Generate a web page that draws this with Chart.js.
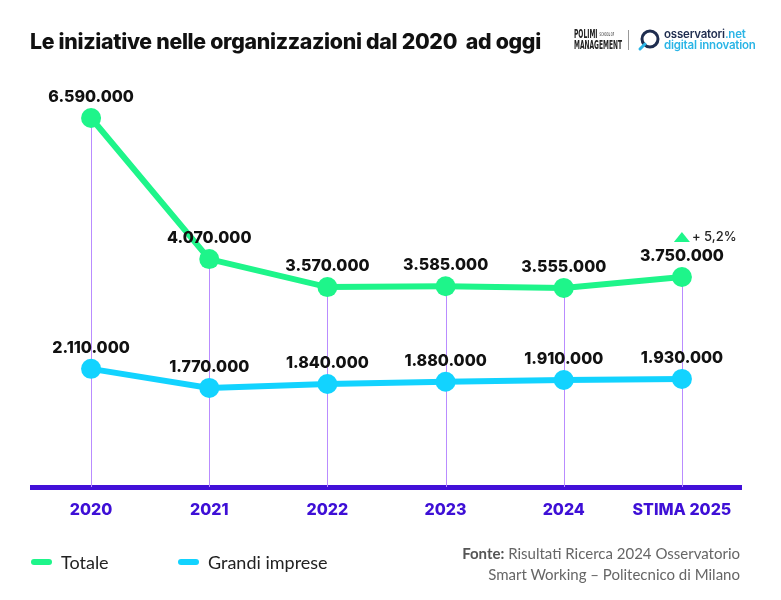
<!DOCTYPE html>
<html>
<head>
<meta charset="utf-8">
<script src="https://cdn.jsdelivr.net/npm/chart.js@4/dist/chart.umd.min.js"></script>
<style>
  html, body { margin: 0; padding: 0; background: #fff; }
  #wrap { position: relative; width: 781px; height: 600px; overflow: hidden; font-family: Inter, "Noto Sans", sans-serif; }
  #chart { position: absolute; left: 0; top: 0; }
  .title { position: absolute; left: 30px; top: 28px; font-size: 21.3px; font-weight: 800; color: #111; letter-spacing: -0.3px; }
  .polimi { position: absolute; left: 574px; top: 29px; font-family: "DejaVu Sans Condensed", "Liberation Sans", sans-serif; font-weight: 700; color: #222; font-size: 12px; line-height: 11px; transform: scaleX(0.55); transform-origin: left top; white-space: nowrap; }
  .polimi small { font-size: 5px; font-weight: 400; vertical-align: top; }
  .sep { position: absolute; left: 628px; top: 30px; width: 1px; height: 20px; background: #999; }
  .osserv { position: absolute; left: 664px; top: 29px; font-size: 11.5px; font-weight: 600; line-height: 11px; color: #1f2d4f; letter-spacing: -0.2px; }
  .osserv span, .osserv .dg { color: #2bb5e6; }
  .ico { position: absolute; left: 637px; top: 28px; }
  .legend { position: absolute; top: 551px; font-size: 18px; color: #222; font-family: Lato, Inter, sans-serif; }
  .legend i { display: inline-block; width: 21px; height: 6px; border-radius: 3px; vertical-align: middle; margin-right: 9px; position: relative; top: -2px; }
  .source { position: absolute; right: 41px; top: 543px; text-align: right; font-size: 15px; line-height: 21px; color: #666; font-family: Lato, Inter, sans-serif; }
  .source b { color: #555; }
</style>
</head>
<body>
<div id="wrap">
  <canvas id="chart" width="781" height="600"></canvas>
  <div class="title">Le iniziative nelle organizzazioni dal 2020&nbsp; ad oggi</div>
  <div class="polimi">POLIMI <small>SCHOOL OF</small><br>MANAGEMENT</div>
  <div class="sep"></div>
  <svg class="ico" width="24" height="24" viewBox="0 0 24 24">
    <circle cx="13" cy="11" r="8" fill="none" stroke="#1f2d4f" stroke-width="3"/>
    <path d="M8 16 L3 21" stroke="#2bb5e6" stroke-width="3" stroke-linecap="round"/>
  </svg>
  <div class="osserv">osservatori<span>.net</span><br><span class="dg">digital innovation</span></div>
  <div class="legend" style="left:31px"><i style="background:#1ef58a"></i>Totale</div>
  <div class="legend" style="left:178px"><i style="background:#12d3ff"></i>Grandi imprese</div>
  <div class="source"><b>Fonte:</b> Risultati Ricerca 2024 Osservatorio<br>Smart Working – Politecnico di Milano</div>
</div>
<script>
var years = ['2020', '2021', '2022', '2023', '2024', 'STIMA 2025'];
var totale = [6590000, 4070000, 3570000, 3585000, 3555000, 3750000];
var grandiImprese = [2110000, 1770000, 1840000, 1880000, 1910000, 1930000];
var growthLabel = '+ 5,2%';

function fmt(v) {
    return v.toString().replace(/\B(?=(\d{3})+(?!\d))/g, '.');
}

// drop lines from the Totale point down to the axis
var dropLines = {
    id: 'dropLines',
    beforeDatasetsDraw: function(chart) {
        var ctx = chart.ctx;
        var pts = chart.getDatasetMeta(0).data;
        var bottom = chart.chartArea.bottom;
        ctx.save();
        ctx.strokeStyle = '#b98cff';
        ctx.lineWidth = 1;
        pts.forEach(function(p) {
            var x = Math.round(p.x) + 0.5;
            ctx.beginPath();
            ctx.moveTo(x, p.y);
            ctx.lineTo(x, bottom);
            ctx.stroke();
        });
        ctx.restore();
    }
};

// value labels above points + growth badge
var valueLabels = {
    id: 'valueLabels',
    afterDatasetsDraw: function(chart) {
        var ctx = chart.ctx;
        ctx.save();
        ctx.font = '800 16px Inter, sans-serif';
        ctx.fillStyle = '#111';
        ctx.textAlign = 'center';
        ctx.textBaseline = 'middle';
        chart.data.datasets.forEach(function(ds, di) {
            chart.getDatasetMeta(di).data.forEach(function(p, i) {
                ctx.fillText(fmt(ds.data[i]), p.x, p.y - 21);
            });
        });
        var last = chart.getDatasetMeta(0).data[totale.length - 1];
        var tx = last.x, ty = last.y - 40;
        ctx.fillStyle = '#1ef58a';
        ctx.beginPath();
        ctx.moveTo(tx - 8, ty + 5);
        ctx.lineTo(tx + 8, ty + 5);
        ctx.lineTo(tx, ty - 5);
        ctx.closePath();
        ctx.fill();
        ctx.fillStyle = '#222';
        ctx.font = '500 13px Inter, sans-serif';
        ctx.textAlign = 'left';
        ctx.fillText(growthLabel, tx + 10, ty);
        ctx.restore();
    }
};

var ctx = document.getElementById('chart').getContext('2d');
var chart = new Chart(ctx, {
    type: 'line',
    data: {
        labels: years,
        datasets: [{
            label: 'Totale',
            data: totale,
            borderColor: '#1ef58a',
            backgroundColor: '#1ef58a',
            borderWidth: 6,
            pointRadius: 10,
            pointBorderWidth: 0,
            tension: 0
        }, {
            label: 'Grandi imprese',
            data: grandiImprese,
            borderColor: '#12d3ff',
            backgroundColor: '#12d3ff',
            borderWidth: 6,
            pointRadius: 10,
            pointBorderWidth: 0,
            tension: 0
        }]
    },
    options: {
        responsive: false,
        animation: false,
        layout: { padding: { left: 32, right: 40, top: 95, bottom: 83 } },
        plugins: {
            legend: { display: false },
            tooltip: { enabled: false }
        },
        scales: {
            x: {
                offset: true,
                grid: { display: false, drawTicks: false },
                border: { color: '#4210d8', width: 5 },
                ticks: {
                    padding: 14,
                    color: '#3e0fd6',
                    font: { family: 'Inter', size: 16, weight: 800 }
                },
                afterFit: function(s) { s.height = 30; }
            },
            y: {
                display: false,
                min: 0,
                max: 7000000
            }
        }
    },
    plugins: [dropLines, valueLabels]
});
</script>
</body>
</html>
